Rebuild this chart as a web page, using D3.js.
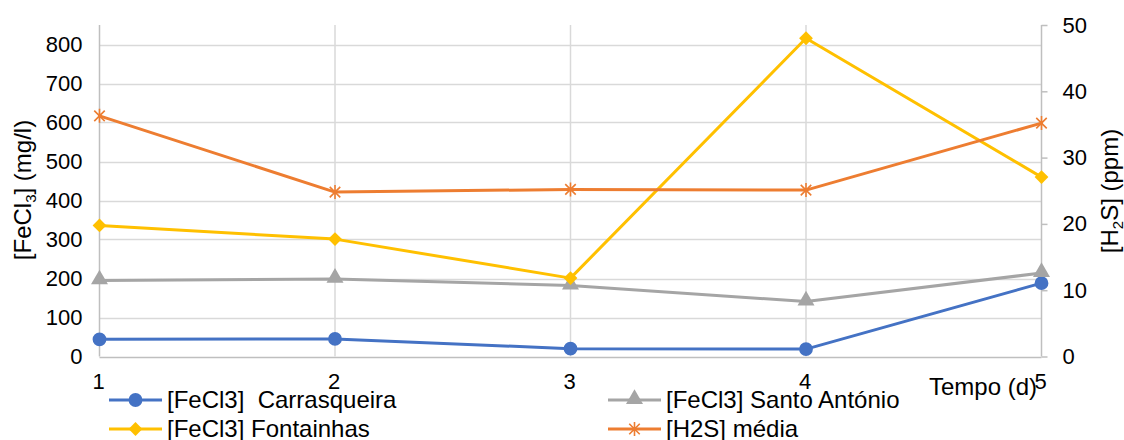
<!DOCTYPE html>
<html>
<head>
<meta charset="utf-8">
<script src="https://cdn.jsdelivr.net/npm/d3@7/dist/d3.min.js"></script>
<style>
  html, body { margin: 0; padding: 0; background: #fff; }
  svg { display: block; font-family: "Liberation Sans", Arial, sans-serif; }
</style>
</head>
<body>
<svg id="chart" width="1124" height="440"></svg>
<script>
// Sampling days
const days = [1, 2, 3, 4, 5];

// Ferric chloride dose per site (mg/l)
const carrasqueira = [44, 45, 20, 19, 188];
const santoAntonio = [195, 199, 182, 141, 214];
const fontainhas = [336, 301, 201, 816, 460];

// Mean H2S concentration (ppm)
const h2sMedia = [36.3, 24.8, 25.2, 25.1, 35.2];

// Axis ticks
const leftTicks = [0, 100, 200, 300, 400, 500, 600, 700, 800];
const rightTicks = [0, 10, 20, 30, 40, 50];

const svg = d3.select("#chart");

const x0 = 99.5, x1 = 1041.5, yTop = 25, yBot = 356.5;
const tickFont = 22, textFont = 24;

const x = d3.scaleLinear().domain([1, 5]).range([x0, x1]);
const yL = d3.scaleLinear().domain([0, 850]).range([yBot, yTop]);
const yR = d3.scaleLinear().domain([0, 50]).range([yBot, yTop]);

const gridColor = "#d9d9d9";
const axisColor = "#bfbfbf";

// Horizontal gridlines (primary axis)
svg.append("g").selectAll("line").data(leftTicks).join("line")
  .attr("x1", x0).attr("x2", x1)
  .attr("y1", d => Math.round(yL(d)) + 0.5).attr("y2", d => Math.round(yL(d)) + 0.5)
  .attr("stroke", d => d === 0 ? axisColor : gridColor).attr("stroke-width", 1.5);

// Vertical gridlines at each day
svg.append("g").selectAll("line").data(days.slice(1, -1)).join("line")
  .attr("x1", d => x(d)).attr("x2", d => x(d))
  .attr("y1", yTop).attr("y2", yBot)
  .attr("stroke", gridColor).attr("stroke-width", 1.5);

// Left axis
const gL = svg.append("g").attr("transform", `translate(${x0},0)`)
  .call(d3.axisLeft(yL).tickValues(leftTicks).tickSize(0).tickPadding(17));
gL.select(".domain").attr("stroke", axisColor).attr("stroke-width", 1.5)
  .attr("d", `M0,${yTop}V${yBot}`);
gL.selectAll("text").attr("font-size", tickFont).attr("fill", "#000")
  .attr("font-family", "Liberation Sans, Arial, sans-serif");

// Right axis
const gR = svg.append("g").attr("transform", `translate(${x1},0)`)
  .call(d3.axisRight(yR).tickValues(rightTicks).tickSize(6).tickPadding(15));
gR.select(".domain").attr("stroke", axisColor).attr("stroke-width", 1.5)
  .attr("d", `M0,${yTop}V${yBot}`);
gR.selectAll(".tick line").attr("stroke", axisColor).attr("stroke-width", 1.5);
gR.selectAll("text").attr("font-size", tickFont).attr("fill", "#000")
  .attr("font-family", "Liberation Sans, Arial, sans-serif");

// Day labels along the bottom
svg.append("g").selectAll("text").data(days).join("text")
  .attr("x", d => x(d) - 1).attr("y", 389)
  .attr("text-anchor", "middle").attr("font-size", tickFont).attr("fill", "#000")
  .text(d => d);

svg.append("text").attr("x", 929).attr("y", 395)
  .attr("font-size", textFont).attr("fill", "#000").text("Tempo (d)");

// Axis titles
const tL = svg.append("text")
  .attr("transform", `translate(31,190) rotate(-90)`)
  .attr("text-anchor", "middle").attr("font-size", textFont).attr("fill", "#000");
tL.append("tspan").text("[FeCl");
tL.append("tspan").attr("font-size", 15).attr("dy", 5).text("3");
tL.append("tspan").attr("dy", -5).text("] (mg/l)");

const tR = svg.append("text")
  .attr("transform", `translate(1118,191) rotate(-90)`)
  .attr("text-anchor", "middle").attr("font-size", textFont).attr("fill", "#000");
tR.append("tspan").text("[H");
tR.append("tspan").attr("font-size", 15).attr("dy", 5).text("2");
tR.append("tspan").attr("dy", -5).text("S] (ppm)");

// Marker shapes
const markers = {
  circle: d3.symbol().type(d3.symbolCircle).size(150),
  diamond: d3.symbol().type(d3.symbolSquare).size(95),
  triangle: d3.symbol().type(d3.symbolTriangle).size(125)
};

function drawMarker(g, shape, color, cx, cy) {
  if (shape === "star") {
    const r = 7, d = r * 0.75;
    g.append("path")
      .attr("d", `M${cx},${cy - r}V${cy + r}M${cx - d},${cy - d}L${cx + d},${cy + d}M${cx - d},${cy + d}L${cx + d},${cy - d}`)
      .attr("stroke", color).attr("stroke-width", 1.6).attr("fill", "none");
  } else {
    const p = g.append("path").attr("d", markers[shape]()).attr("fill", color);
    if (shape === "diamond") p.attr("transform", `translate(${cx},${cy}) rotate(45)`);
    else if (shape === "triangle") p.attr("transform", `translate(${cx},${cy - 1})`);
    else p.attr("transform", `translate(${cx},${cy})`);
  }
}

const series = [
  { name: "[FeCl3]\u00a0 Carrasqueira", values: carrasqueira, y: yL, color: "#4472c4", shape: "circle" },
  { name: "[FeCl3] Santo António", values: santoAntonio, y: yL, color: "#a5a5a5", shape: "triangle" },
  { name: "[FeCl3] Fontainhas", values: fontainhas, y: yL, color: "#ffc000", shape: "diamond" },
  { name: "[H2S] média", values: h2sMedia, y: yR, color: "#ed7d31", shape: "star" }
];

series.forEach(s => {
  const g = svg.append("g");
  const line = d3.line().x((d, i) => x(days[i])).y(d => s.y(d));
  g.append("path").datum(s.values).attr("d", line)
    .attr("fill", "none").attr("stroke", s.color).attr("stroke-width", 3)
    .attr("stroke-linejoin", "round").attr("stroke-linecap", "round");
  s.values.forEach((v, i) => drawMarker(g, s.shape, s.color, x(days[i]), s.y(v)));
});

// Legend: two columns, two rows
const legendPos = [
  { lx: 109, ly: 400 },
  { lx: 608, ly: 400 },
  { lx: 109, ly: 429 },
  { lx: 608, ly: 429 }
];
series.forEach((s, i) => {
  const p = legendPos[i];
  const g = svg.append("g");
  g.append("line").attr("x1", p.lx).attr("x2", p.lx + 53)
    .attr("y1", p.ly).attr("y2", p.ly)
    .attr("stroke", s.color).attr("stroke-width", 3);
  drawMarker(g, s.shape, s.color, p.lx + 26.5, p.ly);
  g.append("text").attr("x", p.lx + 58).attr("y", p.ly + 8)
    .attr("font-size", textFont).attr("fill", "#000")
    .text(s.name);
});
</script>
</body>
</html>
